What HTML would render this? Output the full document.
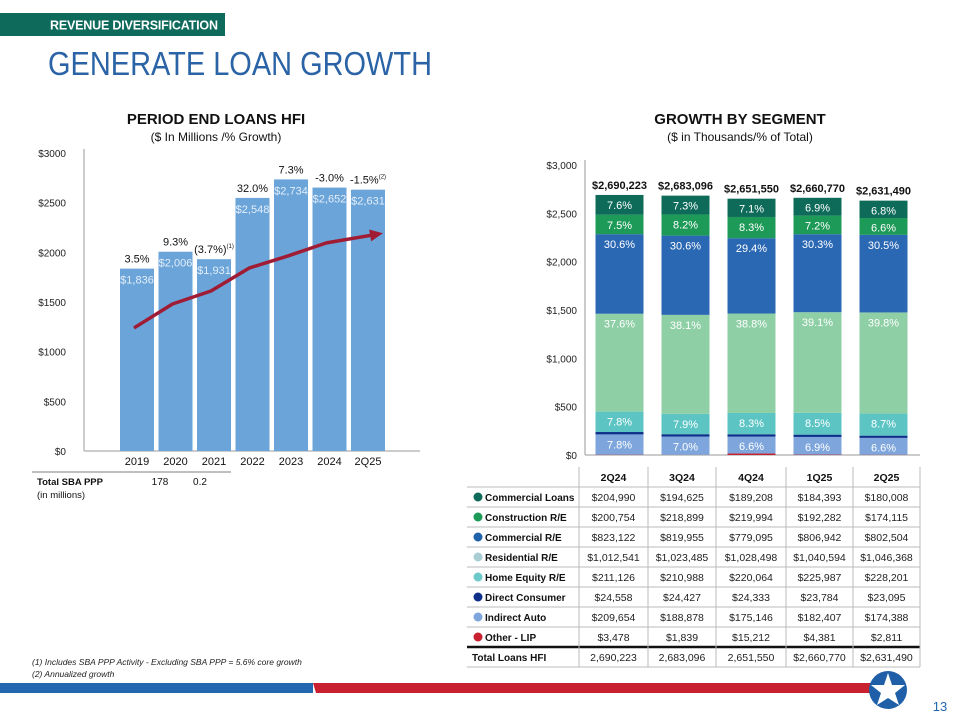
<!DOCTYPE html>
<html><head><meta charset="utf-8"><style>
html,body{margin:0;padding:0;background:#fff;width:960px;height:720px;overflow:hidden}
svg{display:block;font-family:"Liberation Sans",sans-serif}
</style></head><body>
<svg id="s" width="960" height="720" viewBox="0 0 960 720">
  <rect x="0" y="13" width="225" height="23" fill="#0e6b5c"/>
  <text x="50" y="29.5" font-size="12.5" font-weight="bold" fill="#fff" textLength="168">REVENUE DIVERSIFICATION</text>
  <text x="48" y="75" font-size="33" fill="#2a63a6" textLength="384" lengthAdjust="spacingAndGlyphs">GENERATE LOAN GROWTH</text>

  <text x="216" y="124" font-size="15" font-weight="bold" text-anchor="middle" fill="#111">PERIOD END LOANS HFI</text>
  <text x="216" y="141" font-size="12" text-anchor="middle" fill="#111">($ In Millions /% Growth)</text>
  <text x="740" y="124" font-size="15" font-weight="bold" text-anchor="middle" fill="#111">GROWTH BY SEGMENT</text>
  <text x="740" y="141" font-size="12" text-anchor="middle" fill="#111">($ in Thousands/% of Total)</text>

  <g id="left"></g>
  <g id="right"></g>
  <g id="tbl"></g>

  <line x1="32" y1="472" x2="231" y2="472" stroke="#aaa" stroke-width="1.5"/>
  <text x="37" y="485" font-size="9.5" font-weight="bold" fill="#111">Total SBA PPP</text>
  <text x="37" y="498" font-size="9.5" fill="#111">(in millions)</text>
  <text x="160" y="485" font-size="10" text-anchor="middle" fill="#111">178</text>
  <text x="200" y="485" font-size="10" text-anchor="middle" fill="#111">0.2</text>

  <text x="32" y="665" font-size="8.5" font-style="italic" fill="#222">(1) Includes SBA PPP Activity - Excluding SBA PPP = 5.6% core growth</text>
  <text x="32" y="677" font-size="8.5" font-style="italic" fill="#222">(2) Annualized growth</text>

  <polygon points="313,683 890,683 890,693 316,693" fill="#c8202f"/>
  <rect x="0" y="683" width="313" height="10" fill="#2266b0"/>
  <circle cx="888" cy="690" r="19" fill="#1f5fa8"/>
  <polygon points="888,673 892,685 905,685 895,693 899,705 888,698 877,705 881,693 871,685 884,685" fill="#fff"/>
  <text x="940" y="711" font-size="13" fill="#2266b0" text-anchor="middle">13</text>
</svg>
<script>
const NS="http://www.w3.org/2000/svg";
function mk(p,tag,a,txt){const e=document.createElementNS(NS,tag);for(const k in a)e.setAttribute(k,a[k]);if(txt!==undefined)e.textContent=txt;p.appendChild(e);return e;}

/* LEFT CHART DATA */
const leftYears=["2019","2020","2021","2022","2023","2024","2Q25"];
const leftValues=[1836,2006,1931,2548,2734,2652,2631];
const leftValueLabels=["$1,836","$2,006","$1,931","$2,548","$2,734","$2,652","$2,631"];
const leftGrowth=["3.5%","9.3%","(3.7%)","32.0%","7.3%","-3.0%","-1.5%"];
const leftGrowthSup=["","","(1)","","","","(2)"];
const leftTicks=[0,500,1000,1500,2000,2500,3000];
const trendValues=[1239,1480,1611,1843,1964,2095,2185];

/* RIGHT CHART DATA ($ thousands) */
const quarters=["2Q24","3Q24","4Q24","1Q25","2Q25"];
const segNames=["Other - LIP","Indirect Auto","Direct Consumer","Home Equity R/E","Residential R/E","Commercial R/E","Construction R/E","Commercial Loans"];
const segColors=["#c8202f","#7ea6dc","#0d2f8a","#5cc5c4","#8fcfa6","#2b68b4","#1d9a57","#0e6b5a"];
const otherLip=[3478,1839,15212,4381,2811];
const indirectAuto=[209654,188878,175146,182407,174388];
const directConsumer=[24558,24427,24333,23784,23095];
const homeEquity=[211126,210988,220064,225987,228201];
const residential=[1012541,1023485,1028498,1040594,1046368];
const commercialRE=[823122,819955,779095,806942,802504];
const construction=[200754,218899,219994,192282,174115];
const commercialLoans=[204990,194625,189208,184393,180008];
const totals=[2690223,2683096,2651550,2660770,2631490];
const totalLabels=["$2,690,223","$2,683,096","$2,651,550","$2,660,770","$2,631,490"];
const totalTableLabels=["2,690,223","2,683,096","2,651,550","$2,660,770","$2,631,490"];
const pctIndirect=["7.8%","7.0%","6.6%","6.9%","6.6%"];
const pctHome=["7.8%","7.9%","8.3%","8.5%","8.7%"];
const pctResidential=["37.6%","38.1%","38.8%","39.1%","39.8%"];
const pctCRE=["30.6%","30.6%","29.4%","30.3%","30.5%"];
const pctConstruction=["7.5%","8.2%","8.3%","7.2%","6.6%"];
const pctCommercial=["7.6%","7.3%","7.1%","6.9%","6.8%"];
const rightTicks=[0,500,1000,1500,2000,2500,3000];
const rightTickLabels=["$0","$500","$1,000","$1,500","$2,000","$2,500","$3,000"];

/* LEFT CHART */
const L=document.getElementById('left');
const ly=v=>451-v*(298/3000);
const lx=i=>120+i*38.5;
const lw=34;
leftTicks.forEach(t=>{
  const e=mk(L,'text',{x:66,y:ly(t)+4,'font-size':10,'text-anchor':'end',fill:'#222'},'$'+t);
  
  
});
const lax=mk(L,'line',{x1:84,y1:149,x2:84,y2:451,stroke:'#bbb','stroke-width':1.5});


const lbx=mk(L,'line',{x1:84,y1:451,x2:420,y2:451,stroke:'#bbb','stroke-width':1.5});


leftValues.forEach((v,i)=>{
  const r=mk(L,'rect',{x:lx(i),y:ly(v),width:lw,height:451-ly(v),fill:'#6aa4d9'});
  
  
  const vl=mk(L,'text',{x:lx(i)+lw/2,y:ly(v)+15,'font-size':11,'text-anchor':'middle',fill:'#e4eefa'},leftValueLabels[i]);
  
  
  const g=mk(L,'text',{x:lx(i)+lw/2,y:ly(v)-6,'font-size':11,'text-anchor':'middle',fill:'#111'},leftGrowth[i]);
  
  
  if(leftGrowthSup[i]){mk(g,'tspan',{'font-size':6,dy:-5},leftGrowthSup[i]);}
  const xl=mk(L,'text',{x:lx(i)+lw/2,y:465,'font-size':11,'text-anchor':'middle',fill:'#111'},leftYears[i]);
  
  
});
const pts=trendValues.map((v,i)=>[lx(i)+lw/2-3,ly(v)]);
const n=pts.length,ex=pts[n-1][0]+14,ey=pts[n-1][1];
pts[n-1]=[ex,ey];
const tl=mk(L,'polyline',{points:pts.map(p=>p.join(',')).join(' '),fill:'none',stroke:'#a01c35','stroke-width':3.5,'stroke-linejoin':'round'});


const pa=pts[n-2];const ang=Math.atan2(ey-pa[1],ex-pa[0]);
const ah=mk(L,'polygon',{points:[[ex+4*Math.cos(ang),ey+4*Math.sin(ang)],[ex-9*Math.cos(ang)+6*Math.sin(ang),ey-9*Math.sin(ang)-6*Math.cos(ang)],[ex-9*Math.cos(ang)-6*Math.sin(ang),ey-9*Math.sin(ang)+6*Math.cos(ang)]].map(p=>p.join(',')).join(' '),fill:'#a01c35'});



/* RIGHT CHART */
const R=document.getElementById('right');
const ry=v=>455-v/1000*(290/3000);
const rx=i=>595.5+i*66;
const rw=48;
rightTicks.forEach((t,i)=>{
  const e=mk(R,'text',{x:577,y:ry(t*1000)+4,'font-size':10,'text-anchor':'end',fill:'#222'},rightTickLabels[i]);
  
  
});
const rax=mk(R,'line',{x1:585,y1:160,x2:585,y2:455,stroke:'#bbb','stroke-width':1.5});


const rbx=mk(R,'line',{x1:585,y1:455,x2:920,y2:455,stroke:'#bbb','stroke-width':1.5});


const series=[otherLip,indirectAuto,directConsumer,homeEquity,residential,commercialRE,construction,commercialLoans];
const pcts=[null,pctIndirect,null,pctHome,pctResidential,pctCRE,pctConstruction,pctCommercial];
quarters.forEach((q,i)=>{
  let cum=0;
  series.forEach((s,k)=>{
    const y0=ry(cum),y1=ry(cum+s[i]);cum+=s[i];
    const r=mk(R,'rect',{x:rx(i),y:y1,width:rw,height:Math.max(y0-y1,0),fill:segColors[k]});
    
    
    if(pcts[k]){
      const ty=Math.min(y1+14,(y0+y1)/2+5);
      const t=mk(R,'text',{x:rx(i)+rw/2,y:ty,'font-size':11,'text-anchor':'middle',fill:'#fff'},pcts[k][i]);
      
      
    }
  });
  const tt=mk(R,'text',{x:rx(i)+rw/2,y:ry(totals[i])-6,'font-size':11,'font-weight':'bold','text-anchor':'middle',fill:'#111'},totalLabels[i]);
  
  
});

/* TABLE */
const T=document.getElementById('tbl');
const colX=[467,579,648,716,786,853,920];
const tableRows=[["Commercial Loans",commercialLoans,"#0e6b5a"],["Construction R/E",construction,"#1d9a57"],["Commercial R/E",commercialRE,"#1f62aa"],["Residential R/E",residential,"#a8cdd3"],["Home Equity R/E",homeEquity,"#6cc9c9"],["Direct Consumer",directConsumer,"#0d2f8a"],["Indirect Auto",indirectAuto,"#7ea6dc"],["Other - LIP",otherLip,"#c8202f"]];
const fmt=v=>'$'+v.toLocaleString('en-US');
const rowTop=r=>467+r*20;
quarters.forEach((q,i)=>{
  const t=mk(T,'text',{x:(colX[i+1]+colX[i+2])/2,y:481,'font-size':10.5,'font-weight':'bold','text-anchor':'middle',fill:'#111'},q);
  
  
});
tableRows.forEach((row,r)=>{
  const y=rowTop(r+1);
  const c=mk(T,'circle',{cx:478,cy:y+10,r:4.5,fill:row[2]});
  
  
  const l=mk(T,'text',{x:485,y:y+14,'font-size':10,'font-weight':'bold',fill:'#111'},row[0]);
  
  
  row[1].forEach((v,i)=>{
    const t=mk(T,'text',{x:(colX[i+1]+colX[i+2])/2,y:y+14,'font-size':10.5,'text-anchor':'middle',fill:'#222'},fmt(v));
    
    
  });
});
const totY=rowTop(9);
const tl2=mk(T,'text',{x:472,y:totY+14,'font-size':10,'font-weight':'bold',fill:'#111'},'Total Loans HFI');


totalTableLabels.forEach((v,i)=>{
  const t=mk(T,'text',{x:(colX[i+1]+colX[i+2])/2,y:totY+14,'font-size':10.5,'text-anchor':'middle',fill:'#222'},v);
  
  
});
for(let r=1;r<=10;r++){
  const y=rowTop(r);
  mk(T,'line',{x1:colX[0],y1:y,x2:920,y2:y,stroke:r===9?'#111':'#bbb','stroke-width':r===9?2.5:1});
}
colX.slice(1).forEach(x=>mk(T,'line',{x1:x,y1:467,x2:x,y2:rowTop(10),stroke:'#bbb','stroke-width':1}));
</script>
</body></html>
